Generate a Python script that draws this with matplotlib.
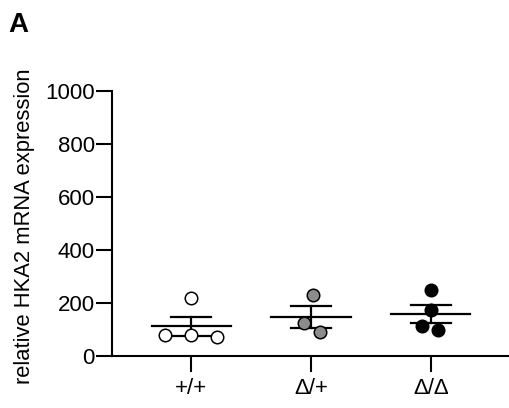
import numpy as np
import matplotlib.pyplot as plt

plt.rcParams['font.family'] = ['Liberation Sans', 'DejaVu Sans']

genotypes = ['+/+', 'Δ/+', 'Δ/Δ']
expr_wt = [80, 80, 72, 218]
expr_het = [124, 229, 90]
expr_hom = [248, 173, 113, 98]
groups = [expr_wt, expr_het, expr_hom]

# horizontal scatter of the points inside each column
jitter = [[-0.22, 0.0, 0.22, 0.0],
          [-0.06, 0.02, 0.075],
          [0.0, 0.0, -0.07, 0.06]]
faces = ['white', '#8c8c8c', 'black']

fig = plt.figure(figsize=(5.1, 4.08), dpi=100)
ax = fig.add_axes([0.2196, 0.1275, 0.7804, 0.6495])

for i, vals in enumerate(groups):
    vals = np.array(vals, dtype=float)
    m = vals.mean()
    sem = vals.std(ddof=1) / np.sqrt(len(vals))
    ax.plot([i - 0.33, i + 0.33], [m, m], color='black', lw=1.6, zorder=2)
    ax.plot([i, i], [m - sem, m + sem], color='black', lw=1.6, zorder=2)
    for y in (m - sem, m + sem):
        ax.plot([i - 0.165, i + 0.165], [y, y], color='black', lw=1.6, zorder=2)
    ax.plot(i + np.array(jitter[i]), vals, 'o', ms=9, mfc=faces[i],
            mec='black', mew=1.1, zorder=3, clip_on=False)

ax.set_xlim(-0.66, 2.66)
ax.set_ylim(0, 1000)
ax.set_yticks(np.arange(0, 1001, 200))
ax.set_xticks(range(3))
ax.set_xticklabels(genotypes)
for s in ['top', 'right']:
    ax.spines[s].set_visible(False)
for s in ['left', 'bottom']:
    ax.spines[s].set_linewidth(1.5)
ax.tick_params(direction='out', length=11.5, width=1.5, labelsize=16)
ax.tick_params(axis='y', pad=1)
ax.tick_params(axis='x', pad=4)
ax.set_ylabel('relative HKA2 mRNA expression', fontsize=15.8)
ax.yaxis.set_label_coords(-77 / 398, 0.49)

fig.text(0.016, 0.97, 'A', fontsize=20, fontweight='bold', va='top', ha='left')

fig.savefig('out.png', dpi=100)
